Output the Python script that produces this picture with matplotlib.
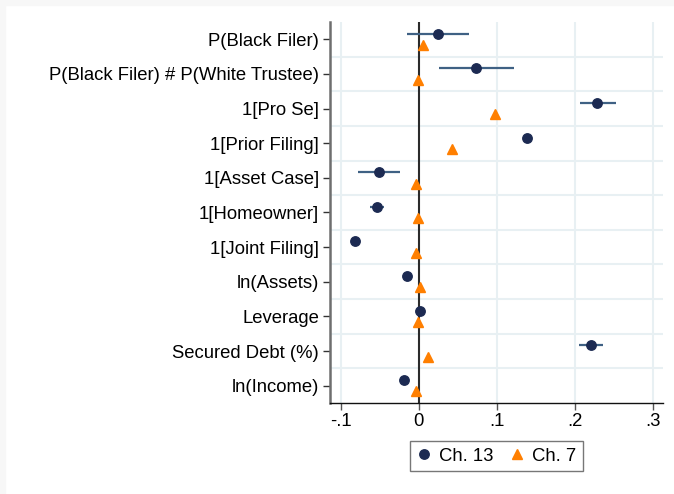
import matplotlib
matplotlib.use("Agg")
import matplotlib.pyplot as plt
from matplotlib.patches import Rectangle

plt.rcParams['font.family'] = ['Liberation Sans', 'DejaVu Sans']

# coefficient labels, top to bottom
labels = ["P(Black Filer)", "P(Black Filer) # P(White Trustee)", "1[Pro Se]",
          "1[Prior Filing]", "1[Asset Case]", "1[Homeowner]", "1[Joint Filing]",
          "ln(Assets)", "Leverage", "Secured Debt (%)", "ln(Income)"]

# Chapter 13 estimates and confidence bounds
ch13 = [0.025, 0.074, 0.229, 0.139, -0.051, -0.054, -0.0817, -0.0146, 0.001, 0.221, -0.0185]
ch13_lo = [-0.0146, 0.0265, 0.207, 0.134, -0.078, -0.063, -0.0845, -0.0160, 0.000, 0.206, -0.0200]
ch13_hi = [0.064, 0.122, 0.2525, 0.145, -0.0235, -0.045, -0.0790, -0.0130, 0.002, 0.236, -0.0170]

# Chapter 7 estimates
ch7 = [0.0055, -0.001, 0.098, 0.042, -0.0035, -0.001, -0.003, 0.001, -0.0005, 0.0123, -0.003]

xticks = [-0.1, 0, 0.1, 0.2, 0.3]
xticklabels = ["-.1", "0", ".1", ".2", ".3"]

navy = "#1c2a52"
orange = "#ff7f00"
ci_col = "#3f6184"
grid_col = "#e8f0f3"
fs = 13.3

fig = plt.figure(figsize=(6.74, 4.94), dpi=100)
# light frame strips along top and left edge
fig.patches.append(Rectangle((0, 1 - 5 / 494), 1, 5 / 494, transform=fig.transFigure,
                             color="#f7f7f7", zorder=0))
fig.patches.append(Rectangle((0, 0), 5 / 674, 1, transform=fig.transFigure,
                             color="#f7f7f7", zorder=0))

ax = fig.add_axes([330 / 674, 1 - 403 / 494, 333 / 674, 381 / 494])

pos = list(range(1, len(labels) + 1))
off = 0.165
y13 = [p - off for p in pos]
y7 = [p + off for p in pos]

# grid
for g in [p + 0.5 for p in pos[:-1]]:
    ax.axhline(g, color=grid_col, lw=1.5, zorder=0)
for t in xticks:
    if t != 0:
        ax.axvline(t, color=grid_col, lw=1.5, zorder=0)
ax.axvline(0, color="#2b2b2b", lw=1.5, zorder=1)

ax.hlines(y13, ch13_lo, ch13_hi, color=ci_col, lw=1.6, zorder=2)
ax.plot(ch13, y13, 'o', color=navy, ms=6.8, ls='none', zorder=3, label="Ch. 13")
ax.plot(ch7, y7, '^', color=orange, ms=7.5, ls='none', zorder=3, label="Ch. 7")

ax.set_ylim(len(labels) + 0.5, 0.5)
ax.set_xlim(-0.1137, 0.313)
ax.set_yticks(pos)
ax.set_yticklabels(labels, fontsize=fs)
ax.set_xticks(xticks)
ax.set_xticklabels(xticklabels, fontsize=fs)

ax.spines['top'].set_visible(False)
ax.spines['right'].set_visible(False)
ax.spines['left'].set_color("#6e6e6e")
ax.spines['left'].set_linewidth(1.8)
ax.spines['bottom'].set_color("#111111")
ax.spines['bottom'].set_linewidth(1.0)
ax.tick_params(axis='y', length=5, width=1, color="#333333", pad=3)
ax.tick_params(axis='x', length=5, width=1, color="#555555", pad=2)

leg = ax.legend(loc='upper center', bbox_to_anchor=(0.5, -0.1), ncol=2, fontsize=fs,
                frameon=True, fancybox=False, edgecolor="#555555", handletextpad=0.4,
                columnspacing=0.9, handlelength=0.8, borderpad=0.35, borderaxespad=0)
leg.get_frame().set_linewidth(1.0)

fig.savefig("out.png", dpi=100)
